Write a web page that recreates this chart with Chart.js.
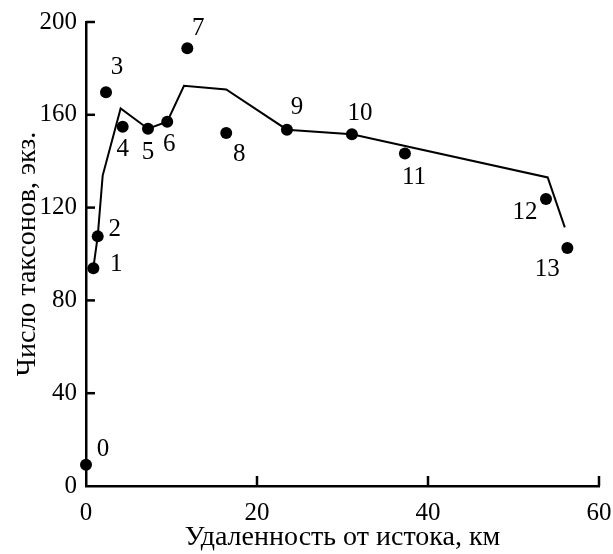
<!DOCTYPE html>
<html>
<head>
<meta charset="utf-8">
<script src="https://cdn.jsdelivr.net/npm/chart.js@4/dist/chart.umd.min.js"></script>
<style>
  html, body { margin: 0; padding: 0; background: #fff; }
  #wrap { width: 613px; height: 554px; }
</style>
</head>
<body>
<div id="wrap"><canvas id="c" width="613" height="554"></canvas></div>
<script>
// ---- data ----
const stationLabels = ['0','1','2','3','4','5','6','7','8','9','10','11','12','13'];
const distanceKm    = [0, 0.86, 1.37, 2.34, 4.29, 7.25, 9.5, 11.85, 16.4, 23.5, 31.1, 37.3, 53.8, 56.3];
const taxaCount     = [9.2, 93.9, 107.6, 169.7, 154.8, 154, 157, 188.7, 152.2, 153.6, 151.6, 143.3, 123.7, 102.6];
const trendX        = [0.86, 1.37, 1.95, 4.05, 7.25, 9.5, 11.46, 16.4, 23.5, 31.1, 54.0, 56.0];
const trendY        = [94, 107.6, 133.8, 162.7, 154, 157, 172.5, 170.9, 153.6, 151.6, 133, 111.5];
const xTicks        = [0, 20, 40, 60];
const yTicks        = [0, 40, 80, 120, 160, 200];
const xTitle = 'Удаленность от истока, км';
const yTitle = 'Число таксонов, экз.';

// ---- presentation ----
const FONT = 'Liberation Serif, "Times New Roman", serif';
const labelOffsets = [[17,-15],[23,-4],[17,-7],[11,-25],[0,23],[0,24],[2,23],[11,-20],[13,22],[10,-22],[8,-21],[9,24],[-21,13],[-20,21]];

const pointsData = distanceKm.map((x, i) => ({ x, y: taxaCount[i] }));
const trendData  = trendX.map((x, i) => ({ x, y: trendY[i] }));

const pointLabelPlugin = {
  id: 'pointLabels',
  afterDatasetsDraw(chart) {
    const meta = chart.getDatasetMeta(1);
    const ctx = chart.ctx;
    ctx.save();
    ctx.fillStyle = '#000';
    ctx.font = '25px ' + FONT;
    ctx.textAlign = 'center';
    ctx.textBaseline = 'middle';
    meta.data.forEach((el, i) => {
      const off = labelOffsets[i] || [0, 0];
      ctx.fillText(stationLabels[i], el.x + off[0], el.y + off[1]);
    });
    ctx.restore();
  }
};

const inwardTicksPlugin = {
  id: 'inwardTicks',
  afterDraw(chart) {
    const ctx = chart.ctx;
    const xs = chart.scales.x, ys = chart.scales.y;
    const area = chart.chartArea;
    ctx.save();
    ctx.strokeStyle = '#000';
    ctx.lineWidth = 2.5;
    xTicks.forEach(v => {
      if (v === 0) return;
      const px = xs.getPixelForValue(v);
      ctx.beginPath();
      ctx.moveTo(px, area.bottom);
      ctx.lineTo(px, area.bottom - 10);
      ctx.stroke();
    });
    yTicks.forEach(v => {
      if (v === 0) return;
      const py = ys.getPixelForValue(v);
      ctx.beginPath();
      ctx.moveTo(area.left, py);
      ctx.lineTo(area.left + 9, py);
      ctx.stroke();
    });
    ctx.restore();
  }
};

new Chart(document.getElementById('c'), {
  type: 'scatter',
  data: {
    datasets: [
      {
        data: trendData,
        showLine: true,
        borderColor: '#000',
        borderWidth: 2,
        pointRadius: 0,
        pointHoverRadius: 0,
        fill: false,
        tension: 0,
        clip: false
      },
      {
        data: pointsData,
        showLine: false,
        pointRadius: 6,
        pointHoverRadius: 6,
        pointBackgroundColor: '#000',
        pointBorderColor: '#000',
        pointBorderWidth: 0,
        clip: false
      }
    ]
  },
  options: {
    responsive: false,
    animation: false,
    events: [],
    layout: { padding: { left: 0, right: 14, top: 22, bottom: 0 } },
    plugins: { legend: { display: false }, tooltip: { enabled: false } },
    scales: {
      x: {
        type: 'linear',
        min: 0, max: 60,
        afterBuildTicks(s) { s.ticks = xTicks.map(v => ({ value: v })); },
        afterFit(s) { s.height = 68; s.paddingLeft = 0; s.paddingRight = 0; },
        grid: { display: false, drawTicks: false },
        border: { display: true, color: '#000', width: 2.5 },
        ticks: { color: '#000', font: { family: FONT, size: 25 }, padding: 12, maxRotation: 0 },
        title: { display: true, text: xTitle, color: '#000', font: { family: FONT, size: 28 }, padding: 0 }
      },
      y: {
        type: 'linear',
        min: 0, max: 200,
        afterBuildTicks(s) { s.ticks = yTicks.map(v => ({ value: v })); },
        afterFit(s) { s.width = 86; s.paddingTop = 0; s.paddingBottom = 0; },
        grid: { display: false, drawTicks: false },
        border: { display: true, color: '#000', width: 2.5 },
        ticks: { color: '#000', font: { family: FONT, size: 25 }, padding: 9 },
        title: { display: true, text: yTitle, color: '#000', font: { family: FONT, size: 28 }, padding: { top: 11, bottom: 0 } }
      }
    }
  },
  plugins: [pointLabelPlugin, inwardTicksPlugin]
});
</script>
</body>
</html>
